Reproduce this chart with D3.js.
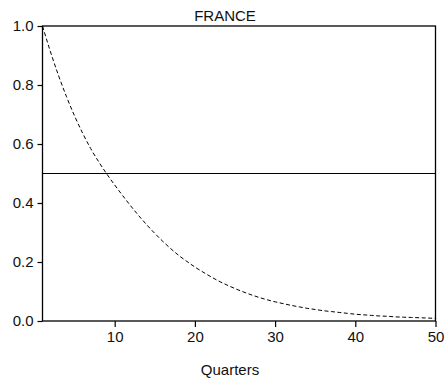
<!DOCTYPE html>
<html>
<head>
<meta charset="utf-8">
<script src="https://cdn.jsdelivr.net/npm/d3@7"></script>
<style>
  body { margin: 0; background: #fff; }
  svg { display: block; font-family: "Liberation Sans", Arial, sans-serif; }
</style>
</head>
<body>
<svg width="448" height="386"></svg>
<script>
// chart data
var title = "FRANCE";
var xLabel = "Quarters";
var quarters = d3.range(1, 51);
var response = [
  1.000, 0.912, 0.832, 0.760, 0.695, 0.637, 0.585, 0.540, 0.499, 0.461,
  0.425, 0.390, 0.357, 0.326, 0.297, 0.270, 0.245, 0.222, 0.202, 0.183,
  0.166, 0.150, 0.135, 0.122, 0.110, 0.099, 0.089, 0.080, 0.072, 0.065,
  0.059, 0.053, 0.048, 0.043, 0.039, 0.035, 0.032, 0.029, 0.026, 0.023,
  0.021, 0.019, 0.017, 0.016, 0.014, 0.013, 0.012, 0.011, 0.010, 0.009
];
var threshold = 0.5;
var xTicks = [10, 20, 30, 40, 50];
var yTicks = [0, 0.2, 0.4, 0.6, 0.8, 1.0];

var svg = d3.select("svg"),
    margin = {top: 26, right: 12.5, bottom: 65, left: 42.5},
    width = +svg.attr("width") - margin.left - margin.right,
    height = +svg.attr("height") - margin.top - margin.bottom;

var x = d3.scaleLinear().domain([1, 50]).range([0, width]),
    y = d3.scaleLinear().domain([0, 1]).range([height, 0]);

var g = svg.append("g").attr("transform", "translate(" + margin.left + "," + margin.top + ")");

// axes
var xAxis = g.append("g")
    .attr("transform", "translate(0," + height + ")")
    .call(d3.axisBottom(x).tickValues(xTicks).tickSize(6).tickSizeOuter(0).tickPadding(4));
var yAxis = g.append("g")
    .call(d3.axisLeft(y).tickValues(yTicks).tickFormat(d3.format(".1f")).tickSize(5).tickSizeOuter(0).tickPadding(4));

[xAxis, yAxis].forEach(function(a) {
  a.select(".domain").remove();
  a.selectAll("line").attr("stroke", "#000").attr("stroke-width", 1.2);
  a.selectAll("text")
    .attr("font-family", "Liberation Sans, Arial, sans-serif")
    .attr("font-size", 15)
    .attr("fill", "#111");
});

// threshold line
g.append("line")
    .attr("x1", 0).attr("x2", width)
    .attr("y1", y(threshold)).attr("y2", y(threshold))
    .attr("stroke", "#000").attr("stroke-width", 1.2);

// dashed response curve
var line = d3.line()
    .curve(d3.curveMonotoneX)
    .x(function(d, i) { return x(quarters[i]); })
    .y(function(d) { return y(d); });

g.append("path")
    .datum(response)
    .attr("d", line)
    .attr("fill", "none")
    .attr("stroke", "#000")
    .attr("stroke-width", 1)
    .attr("stroke-dasharray", "4,2.5");

// frame
g.append("rect")
    .attr("width", width).attr("height", height)
    .attr("fill", "none")
    .attr("stroke", "#000")
    .attr("stroke-width", 1.3);

// title and axis label
svg.append("text")
    .attr("x", 225).attr("y", 20.5)
    .attr("text-anchor", "middle")
    .attr("font-size", 15)
    .attr("fill", "#111")
    .text(title);

svg.append("text")
    .attr("x", 230).attr("y", 375)
    .attr("text-anchor", "middle")
    .attr("font-size", 15)
    .attr("fill", "#111")
    .text(xLabel);
</script>
</body>
</html>
